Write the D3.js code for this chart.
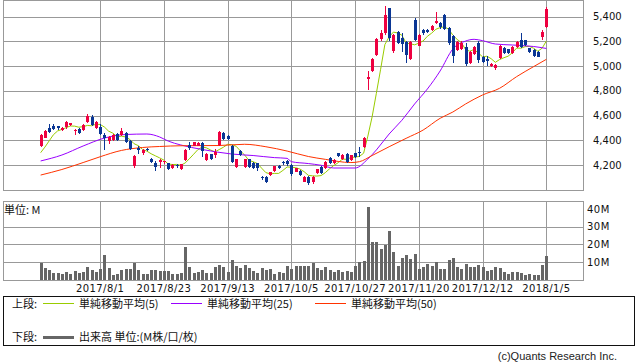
<!DOCTYPE html>
<html>
<head>
<meta charset="utf-8">
<script src="https://cdn.jsdelivr.net/npm/d3@7"></script>
<style>
  body { margin: 0; background: #fff; }
  svg { display: block; }
  .ax { font-family: 'DejaVu Sans', sans-serif; font-size: 10px; fill: #111; }
  .jp { font-family: 'Noto Sans CJK JP', sans-serif; font-size: 11px; fill: #111; }
</style>
</head>
<body>
<script>
// daily candles 2017/7/11 - 2018/1/5 (TSE trading days)
const holidays = ['2017-07-17', '2017-08-11', '2017-09-18', '2017-10-09', '2017-11-03', '2017-11-23', '2018-01-01', '2018-01-02', '2018-01-03']

const open = [4356, 4421, 4502, 4518, 4515, 4486, 4508, 4521, 4476, 4489,
  4483, 4546, 4591, 4500, 4510, 4440, 4397, 4400, 4451, 4443,
  4462, 4397, 4195, 4335, 4295, 4330, 4249, 4214, 4227, 4222,
  4214, 4173, 4200, 4165, 4241, 4362, 4357, 4357, 4381, 4241,
  4287, 4281, 4362, 4462, 4433, 4354, 4187, 4316, 4187, 4246,
  4219, 4214, 4106, 4106, 4120, 4150, 4192, 4227, 4233, 4200,
  4146, 4152, 4065, 4106, 4060, 4138, 4181, 4173, 4254, 4214,
  4295, 4246, 4289, 4241, 4295, 4308, 4348, 4896, 4961, 5090,
  5220, 5266, 5468, 5125, 5279, 5225, 5193, 5058, 5373, 5165,
  5292, 5290, 5292, 5347, 5347, 5414, 5306, 5244, 5131, 5136,
  5157, 5023, 5098, 5190, 5076, 5055, 5001, 4983, 5063, 5149,
  5136, 5109, 5157, 5211, 5211, 5144, 5131, 5117, 5238, 5319]

const high = [4452, 4480, 4530, 4530, 4518, 4505, 4556, 4540, 4489, 4498,
  4532, 4613, 4605, 4559, 4530, 4460, 4435, 4450, 4460, 4500,
  4470, 4400, 4280, 4351, 4330, 4340, 4255, 4230, 4245, 4235,
  4220, 4205, 4210, 4210, 4330, 4384, 4390, 4385, 4386, 4295,
  4290, 4330, 4478, 4470, 4440, 4360, 4250, 4325, 4250, 4250,
  4225, 4220, 4115, 4110, 4145, 4195, 4200, 4235, 4240, 4210,
  4180, 4160, 4110, 4110, 4112, 4170, 4190, 4232, 4262, 4246,
  4300, 4290, 4295, 4285, 4300, 4348, 4425, 4963, 5065, 5225,
  5290, 5485, 5470, 5260, 5285, 5266, 5200, 5205, 5387, 5260,
  5300, 5300, 5330, 5436, 5360, 5420, 5317, 5250, 5205, 5200,
  5190, 5125, 5165, 5200, 5085, 5082, 5025, 5015, 5170, 5155,
  5140, 5165, 5205, 5271, 5215, 5150, 5135, 5120, 5290, 5476]

const low = [4345, 4415, 4462, 4482, 4482, 4478, 4492, 4515, 4445, 4454,
  4476, 4538, 4516, 4492, 4440, 4322, 4370, 4395, 4395, 4438,
  4380, 4320, 4180, 4290, 4280, 4315, 4215, 4154, 4176, 4210,
  4160, 4165, 4180, 4160, 4235, 4322, 4350, 4350, 4265, 4235,
  4240, 4260, 4355, 4400, 4400, 4220, 4180, 4270, 4180, 4180,
  4165, 4150, 4080, 4055, 4110, 4140, 4165, 4200, 4195, 4115,
  4140, 4110, 4060, 4040, 4045, 4130, 4130, 4165, 4205, 4208,
  4265, 4240, 4215, 4235, 4260, 4267, 4340, 4807, 4950, 5085,
  5200, 5250, 5200, 5110, 5180, 5117, 5023, 5050, 5200, 5160,
  5255, 5265, 5285, 5340, 5300, 5290, 5171, 5025, 5125, 5130,
  5000, 5015, 5090, 5025, 5025, 5001, 4990, 4969, 5055, 5100,
  5095, 5100, 5150, 5150, 5165, 5110, 5075, 5070, 5211, 5310]

const close = [4443, 4475, 4470, 4492, 4500, 4502, 4548, 4537, 4486, 4457,
  4524, 4597, 4524, 4546, 4451, 4420, 4429, 4443, 4400, 4475,
  4389, 4327, 4270, 4322, 4322, 4320, 4222, 4186, 4240, 4230,
  4165, 4200, 4190, 4206, 4322, 4335, 4384, 4376, 4314, 4287,
  4246, 4308, 4470, 4408, 4408, 4227, 4246, 4281, 4246, 4187,
  4174, 4174, 4093, 4065, 4140, 4190, 4173, 4214, 4206, 4127,
  4173, 4119, 4106, 4058, 4106, 4165, 4138, 4227, 4214, 4241,
  4273, 4284, 4221, 4279, 4267, 4295, 4416, 4914, 5058, 5220,
  5266, 5414, 5225, 5252, 5185, 5179, 5090, 5198, 5211, 5252,
  5266, 5280, 5325, 5368, 5320, 5298, 5185, 5082, 5198, 5190,
  5015, 5117, 5157, 5050, 5036, 5042, 5017, 5009, 5163, 5109,
  5104, 5157, 5198, 5157, 5171, 5117, 5082, 5076, 5279, 5460]

// volume, millions
const volume = [9.8, 7.0, 5.7, 4.2, 3.8, 3.6, 4.7, 3.6, 5.1, 3.8,
  4.5, 7.4, 5.7, 4.7, 6.2, 14.2, 6.8, 2.8, 3.4, 5.5,
  6.2, 6.2, 9.6, 5.5, 3.6, 3.4, 5.5, 5.5, 4.9, 4.9,
  4.9, 3.4, 3.4, 4.2, 18.7, 7.2, 4.2, 4.3, 5.5, 4.0,
  3.8, 7.4, 8.3, 7.5, 4.3, 11.3, 7.9, 7.0, 8.5, 6.8,
  4.9, 3.8, 6.8, 5.5, 6.0, 3.4, 4.7, 3.8, 7.9, 6.0,
  7.9, 7.9, 8.0, 8.0, 9.6, 7.0, 5.7, 7.2, 5.7, 4.5,
  5.5, 4.3, 5.1, 4.7, 7.9, 10.4, 10.8, 41.3, 21.3, 21.3,
  17.5, 19.8, 27.7, 15.8, 7.9, 12.6, 14.2, 11.9, 14.7, 6.2,
  7.4, 9.1, 7.9, 10.0, 6.2, 6.2, 11.3, 12.5, 7.4, 6.2,
  9.1, 7.4, 7.4, 8.5, 7.4, 5.1, 5.8, 7.4, 6.8, 4.5,
  3.4, 4.5, 4.5, 4.0, 2.8, 3.4, 2.8, 2.8, 8.5, 13.6]

// 5-day MA for the first four days (earlier closes are off the chart)
const ma5Head = [4300, 4345, 4395, 4445]

// 25 / 50 day MA at these day indices
const ma25Day = [0, 5, 10, 15, 20, 25, 28, 30, 33, 38, 45, 50, 55, 58, 59, 63, 66, 69, 74, 77,
  79, 82, 85, 88, 91, 94, 97, 100, 102, 104, 107, 111, 116, 119]
const ma25 = [4233, 4281, 4354, 4418, 4447, 4451, 4427, 4394, 4362, 4326, 4289, 4277, 4260, 4254, 4227, 4212, 4198, 4176, 4176, 4249,
  4322, 4451, 4562, 4694, 4815, 4961, 5139, 5203, 5217, 5206, 5179, 5171, 5159, 5143]
const ma50Day = [0, 5, 10, 14, 19, 24, 28, 33, 42, 48, 53, 58, 63, 67, 73, 75, 78, 82, 86, 90,
  94, 97, 100, 104, 108, 112, 116, 119]
const ma50 = [4119, 4164, 4220, 4267, 4318, 4342, 4350, 4356, 4358, 4368, 4348, 4313, 4269, 4246, 4220, 4227, 4277, 4348, 4416, 4483,
  4578, 4629, 4694, 4767, 4821, 4915, 4996, 5055]

const priceTicks = [4200, 4400, 4600, 4800, 5000, 5200, 5400]
const volTicks = [10, 20, 30, 40]
const dateTicks = ['2017/8/1', '2017/8/23', '2017/9/13', '2017/10/5', '2017/10/27', '2017/11/20', '2017/12/12', '2018/1/5']
const maLabels = ['単純移動平均(5)', '単純移動平均(25)', '単純移動平均(50)']

const upColor = '#ee0040'
const downColor = '#0a3694'
const maColors = ['#99cc00', '#9900ff', '#ff3300']
const gridColor = '#999'

const fmtDay = d3.timeFormat('%Y-%m-%d')
const fmtLabel = d3.timeFormat('%Y/%-m/%-d')
const dates = d3.timeDay
  .range(new Date(2017, 6, 11), new Date(2018, 0, 6))
  .filter((d) => d.getDay() > 0 && d.getDay() < 6 && !holidays.includes(fmtDay(d)))
  .map(fmtLabel)

const candles = dates.map((d, i) => ({ date: d, o: open[i], h: high[i], l: low[i], c: close[i], v: volume[i] }))

const ma5 = close.map((c, i) => (i < 4 ? ma5Head[i] : d3.mean(close.slice(i - 4, i + 1))))

const svg = d3.select('body').append('svg').attr('width', 638).attr('height', 362)

const pLeft = 3.5
const pRight = 583.5
const pTop = 0.5
const pBottom = 190.5
const vTop = 201.5
const vBottom = 280

const x = d3.scalePoint().domain(dates).range([pLeft, pRight]).padding(8.74)
const y = d3.scaleLinear().domain([3994, 5531]).range([pBottom, pTop])
const yv = d3.scaleLinear().domain([0, 44.2]).range([vBottom, vTop])
const sx = (d) => Math.round(x(d)) + 0.5

// ---- grids
const grid = svg.append('g').attr('stroke', gridColor).attr('stroke-width', 1).attr('shape-rendering', 'crispEdges')

grid.selectAll('line.hp')
  .data(priceTicks)
  .enter()
  .append('line')
  .attr('x1', pLeft).attr('x2', pRight)
  .attr('y1', (d) => Math.round(y(d)) + 0.5)
  .attr('y2', (d) => Math.round(y(d)) + 0.5)

grid.selectAll('line.hv')
  .data(volTicks.filter((d) => yv(d) > vTop + 10))
  .enter()
  .append('line')
  .attr('x1', pLeft).attr('x2', pRight)
  .attr('y1', (d) => Math.round(yv(d)) + 0.5)
  .attr('y2', (d) => Math.round(yv(d)) + 0.5)

grid.selectAll('line.vp')
  .data(dateTicks)
  .enter()
  .append('line')
  .attr('x1', sx).attr('x2', sx)
  .attr('y1', pTop).attr('y2', pBottom)

grid.selectAll('line.vv')
  .data(dateTicks)
  .enter()
  .append('line')
  .attr('x1', sx).attr('x2', sx)
  .attr('y1', vTop).attr('y2', vBottom)

grid.append('rect').attr('x', pLeft).attr('y', pTop).attr('width', pRight - pLeft).attr('height', pBottom - pTop).attr('fill', 'none')
grid.append('rect').attr('x', pLeft).attr('y', vTop).attr('width', pRight - pLeft).attr('height', vBottom - vTop).attr('fill', 'none')

// ---- moving averages
const line = d3.line().x((d) => x(d[0])).y((d) => y(d[1]))

svg.append('path')
  .datum(ma5.map((v, i) => [dates[i], v]))
  .attr('d', line)
  .attr('fill', 'none').attr('stroke', maColors[0]).attr('stroke-width', 1)

svg.append('path')
  .datum(ma25Day.map((k, i) => [dates[k], ma25[i]]))
  .attr('d', line.curve(d3.curveMonotoneX))
  .attr('fill', 'none').attr('stroke', maColors[1]).attr('stroke-width', 1)

svg.append('path')
  .datum(ma50Day.map((k, i) => [dates[k], ma50[i]]))
  .attr('d', line.curve(d3.curveMonotoneX))
  .attr('fill', 'none').attr('stroke', maColors[2]).attr('stroke-width', 1)

// ---- candles
const candleG = svg.append('g')
  .selectAll('g')
  .data(candles)
  .enter()
  .append('g')
  .attr('shape-rendering', 'crispEdges')
  .style('fill', (d) => (d.c >= d.o ? upColor : downColor))
  .style('stroke', (d) => (d.c >= d.o ? upColor : downColor))

candleG.append('line')
  .attr('x1', (d) => sx(d.date)).attr('x2', (d) => sx(d.date))
  .attr('y1', (d) => Math.round(y(d.h))).attr('y2', (d) => Math.round(y(d.l)))

candleG.append('rect')
  .style('stroke', 'none')
  .attr('x', (d) => Math.round(x(d.date)) - 1)
  .attr('width', 3)
  .attr('y', (d) => Math.round(y(Math.max(d.o, d.c))))
  .attr('height', (d) => Math.max(1, Math.round(y(Math.min(d.o, d.c))) - Math.round(y(Math.max(d.o, d.c)))))

// ---- volume bars
svg.append('g')
  .attr('fill', '#666')
  .attr('shape-rendering', 'crispEdges')
  .selectAll('rect')
  .data(candles)
  .enter()
  .append('rect')
  .attr('x', (d) => Math.round(x(d.date)) - 1)
  .attr('width', 3)
  .attr('y', (d) => Math.round(yv(d.v)))
  .attr('height', (d) => vBottom - Math.round(yv(d.v)))

// ---- axis labels
svg.append('g')
  .selectAll('text')
  .data(priceTicks)
  .enter()
  .append('text')
  .attr('class', 'ax')
  .attr('x', 593)
  .attr('y', (d) => y(d) + 3.6)
  .text(d3.format(','))

svg.append('g')
  .selectAll('text')
  .data(volTicks)
  .enter()
  .append('text')
  .attr('class', 'ax')
  .attr('x', 587)
  .attr('y', (d) => yv(d) + 3.6)
  .style('letter-spacing', '0.5px')
  .text((d) => d + 'M')

svg.append('g')
  .selectAll('text')
  .data(dateTicks)
  .enter()
  .append('text')
  .attr('class', 'ax')
  .attr('x', (d) => x(d))
  .attr('y', 292)
  .attr('text-anchor', 'middle')
  .style('letter-spacing', '0.4px')
  .text((d) => d)

svg.append('text').attr('class', 'jp').attr('x', 4).attr('y', 214).text('単位: M')

// ---- legend
const legend = svg.append('g')
legend.append('rect')
  .attr('x', 3.5).attr('y', 296.5).attr('width', 631).attr('height', 49)
  .attr('fill', 'none').attr('stroke', '#111')

legend.append('text').attr('class', 'jp').attr('x', 12).attr('y', 307.5).text('上段:')
legend.append('text').attr('class', 'jp').attr('x', 12).attr('y', 341).text('下段:')

const keyX = [43, 171, 315]
legend.selectAll('line.ma')
  .data(maLabels)
  .enter()
  .append('line')
  .attr('x1', (d, i) => keyX[i]).attr('x2', (d, i) => keyX[i] + 31)
  .attr('y1', 303.5).attr('y2', 303.5)
  .attr('stroke', (d, i) => maColors[i])

legend.selectAll('text.ma')
  .data(maLabels)
  .enter()
  .append('text')
  .attr('class', 'jp')
  .attr('x', (d, i) => keyX[i] + 36)
  .attr('y', 307.5)
  .text((d) => d)

legend.append('line')
  .attr('x1', 43).attr('x2', 74).attr('y1', 337.5).attr('y2', 337.5)
  .attr('stroke', '#666').attr('stroke-width', 3)
legend.append('text').attr('class', 'jp').attr('x', 79).attr('y', 341).text('出来高 単位:(M株/口/枚)')

svg.append('text')
  .attr('x', 617).attr('y', 360)
  .attr('text-anchor', 'end')
  .style('font-family', "'Liberation Sans', sans-serif")
  .style('font-size', '11px')
  .style('fill', '#222')
  .text('(c)Quants Research Inc.')
</script>
</body>
</html>
